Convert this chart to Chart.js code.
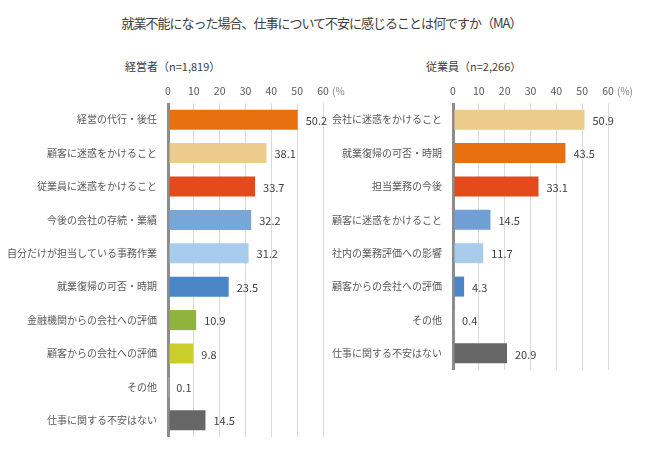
<!DOCTYPE html>
<html>
<head>
<meta charset="utf-8">
<script src="https://cdn.jsdelivr.net/npm/chart.js@4/dist/chart.umd.min.js"></script>
<style>
    body { margin: 0; width: 650px; height: 456px; background: #fff; position: relative; overflow: hidden;
           font-family: "Noto Sans CJK JP", sans-serif; }
    .txt { position: absolute; white-space: nowrap; color: #404040; line-height: 1; }
    #title { top: 16px; left: 0; width: 643px; text-align: center; font-size: 13px; letter-spacing: -1px; }
    #subBoss { top: 61px; left: 125px; font-size: 11px; }
    #subStaff { top: 61px; left: 426px; font-size: 11px; }
    canvas { position: absolute; top: 0; }
    #bossChart { left: 0; }
    #staffChart { left: 320px; }
</style>
</head>
<body>
<div class="txt" id="title">就業不能になった場合、仕事について不安に感じることは何ですか（MA）</div>
<div class="txt" id="subBoss">経営者（n=1,819）</div>
<div class="txt" id="subStaff">従業員（n=2,266）</div>
<canvas id="bossChart" width="345" height="456"></canvas>
<canvas id="staffChart" width="330" height="456"></canvas>

<script>
const FONT = '"Noto Sans CJK JP", sans-serif';

// 経営者
const bossLabels = ['経営の代行・後任', '顧客に迷惑をかけること', '従業員に迷惑をかけること', '今後の会社の存続・業績',
    '自分だけが担当している事務作業', '就業復帰の可否・時期', '金融機関からの会社への評価', '顧客からの会社への評価',
    'その他', '仕事に関する不安はない'];
const bossValues = [50.2, 38.1, 33.7, 32.2, 31.2, 23.5, 10.9, 9.8, 0.1, 14.5];
const bossColors = ['#e8700f', '#edcb8c', '#e24a1c', '#77a6d8', '#a8ccec', '#4a85c5', '#8fb33c', '#c9ce2c', '#a6a6a6', '#666666'];

// 従業員
const staffLabels = ['会社に迷惑をかけること', '就業復帰の可否・時期', '担当業務の今後', '顧客に迷惑をかけること',
    '社内の業務評価への影響', '顧客からの会社への評価', 'その他', '仕事に関する不安はない'];
const staffValues = [50.9, 43.5, 33.1, 14.5, 11.7, 4.3, 0.4, 20.9];
const staffColors = ['#edcb8c', '#e8700f', '#e24a1c', '#6f9fd5', '#a8ccec', '#4a85c5', '#a6a6a6', '#666666'];

const axisMin = 0;
const axisMax = 60;
const axisStep = 10;

// 棒の右に数値、60の右に(%)
const valueLabels = {
    id: 'valueLabels',
    afterDatasetsDraw(chart) {
        const ctx = chart.ctx;
        const vals = chart.data.datasets[0].data;
        ctx.save();
        ctx.font = '11px ' + FONT;
        ctx.fillStyle = '#404040';
        ctx.textBaseline = 'middle';
        chart.getDatasetMeta(0).data.forEach((bar, i) => {
            ctx.fillText(vals[i].toFixed(1), bar.x + 8, bar.y + 1);
        });
        const xs = chart.scales.x;
        ctx.font = '10px ' + FONT;
        ctx.fillStyle = '#7f7f7f';
        ctx.fillText('(%)', xs.getPixelForValue(axisMax) + 9, 91);
        ctx.restore();
    }
};

function drawPanel(id, labels, values, colors, yWidth, pad) {
    return new Chart(document.getElementById(id), {
        type: 'bar',
        data: {
            labels: labels,
            datasets: [{
                data: values,
                backgroundColor: colors,
                borderWidth: 0,
                barPercentage: 0.6,
                categoryPercentage: 1
            }]
        },
        options: {
            indexAxis: 'y',
            responsive: false,
            animation: false,
            layout: { padding: pad },
            plugins: { legend: { display: false }, tooltip: { enabled: false } },
            scales: {
                x: {
                    position: 'top',
                    min: axisMin,
                    max: axisMax,
                    ticks: { stepSize: axisStep, font: { size: 10.5, family: FONT }, color: '#595959', padding: 6 },
                    grid: {
                        drawTicks: false,
                        color: c => c.tick && c.tick.value === 0 ? '#8c8c8c' : '#d9d9d9',
                        lineWidth: c => c.tick && c.tick.value === 0 ? 3 : 1
                    },
                    border: { display: false },
                    afterFit: s => { s.height = 20; }
                },
                y: {
                    ticks: { font: { size: 10, family: FONT }, color: '#595959', padding: 11 },
                    grid: { display: false, drawTicks: false },
                    border: { display: false },
                    afterFit: s => { s.width = yWidth; }
                }
            }
        },
        plugins: [valueLabels]
    });
}

drawPanel('bossChart', bossLabels, bossValues, bossColors, 168, { top: 83, bottom: 19, left: 0, right: 22 });
drawPanel('staffChart', staffLabels, staffValues, staffColors, 133, { top: 83, bottom: 86, left: 0, right: 42 });
</script>
</body>
</html>
